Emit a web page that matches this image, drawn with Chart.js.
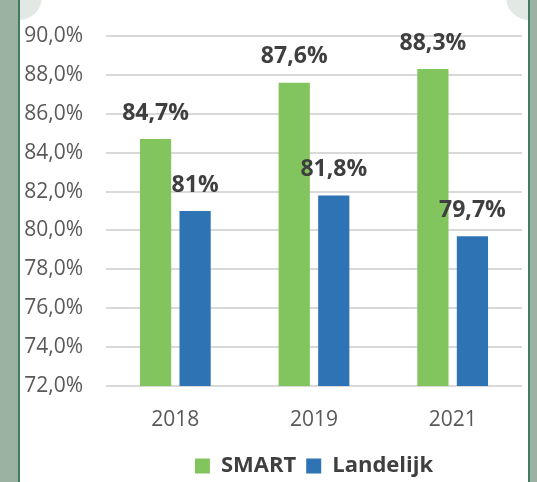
<!DOCTYPE html>
<html>
<head>
<meta charset="utf-8">
<script src="https://cdn.jsdelivr.net/npm/chart.js@4"></script>
<style>
  html, body { margin: 0; padding: 0; }
  body { width: 537px; height: 482px; background: #9bb2a3; position: relative; overflow: hidden; }
  #panel { position: absolute; left: 18px; top: 0; width: 508px; height: 482px; background: #ffffff; overflow: hidden;
           border-left: 2px solid #3f7b5c; border-right: 2px solid #3f7b5c; }
  .corner { position: absolute; top: -26px; width: 46px; height: 46px; background: #e2e9e4; border-radius: 50%; }
  #cl { left: -24px; }
  #cr { right: -24px; }
  #wrap { position: absolute; left: 0; top: 0; width: 537px; height: 482px; }
</style>
</head>
<body>
<div id="panel"><div class="corner" id="cl"></div><div class="corner" id="cr"></div></div>
<div id="wrap"><canvas id="c" width="537" height="482"></canvas></div>
<script>
const categories = ["2018", "2019", "2021"];
const smartValues = [84.7, 87.6, 88.3];
const landelijkValues = [81.0, 81.8, 79.7];
const smartLabels = ["84,7%", "87,6%", "88,3%"];
const landelijkLabels = ["81%", "81,8%", "79,7%"];
const seriesNames = ["SMART", "Landelijk"];
const yMin = 72, yMax = 90, yStep = 2;

const valueLabels = {
  id: 'valueLabels',
  afterDatasetsDraw(chart) {
    const ctx = chart.ctx;
    const lists = [smartLabels, landelijkLabels];
    ctx.save();
    ctx.font = 'bold 23px "Open Sans"';
    ctx.fillStyle = '#3f3f3f';
    ctx.textAlign = 'center';
    ctx.textBaseline = 'middle';
    chart.data.datasets.forEach((ds, di) => {
      const meta = chart.getDatasetMeta(di);
      meta.data.forEach((bar, i) => {
        ctx.fillText(lists[di][i], bar.x, bar.y - 26);
      });
    });
    ctx.restore();
  }
};

new Chart(document.getElementById('c'), {
  type: 'bar',
  data: {
    labels: categories,
    datasets: [
      { label: seriesNames[0], data: smartValues, backgroundColor: '#82c45e', barPercentage: 0.79, categoryPercentage: 0.57 },
      { label: seriesNames[1], data: landelijkValues, backgroundColor: '#2e74b5', barPercentage: 0.79, categoryPercentage: 0.57 }
    ]
  },
  options: {
    responsive: false,
    animation: false,
    layout: { padding: { top: 36, right: 15, left: 0, bottom: -5 } },
    plugins: {
      legend: {
        position: 'bottom',
        fullSize: false,
        labels: {
          boxWidth: 15, boxHeight: 15, padding: 10,
          color: '#3f3f3f',
          font: { family: '"Open Sans"', size: 22, weight: 'bold' }
        }
      },
      tooltip: { enabled: false }
    },
    scales: {
      y: {
        min: yMin, max: yMax,
        afterFit(s) { s.width = 106; },
        border: { display: false },
        grid: { color: '#d9d9d9', lineWidth: 2, drawTicks: false },
        ticks: {
          stepSize: yStep, padding: 23, color: '#595959',
          font: { family: '"Open Sans"', size: 21 },
          callback: v => v.toFixed(1).replace('.', ',') + '%'
        }
      },
      x: {
        afterFit(s) { s.height = 59; },
        border: { display: false },
        grid: { display: false, drawTicks: false },
        ticks: { padding: 21, color: '#595959', font: { family: '"Open Sans"', size: 21 } }
      }
    }
  },
  plugins: [valueLabels]
});
</script>
</body>
</html>
